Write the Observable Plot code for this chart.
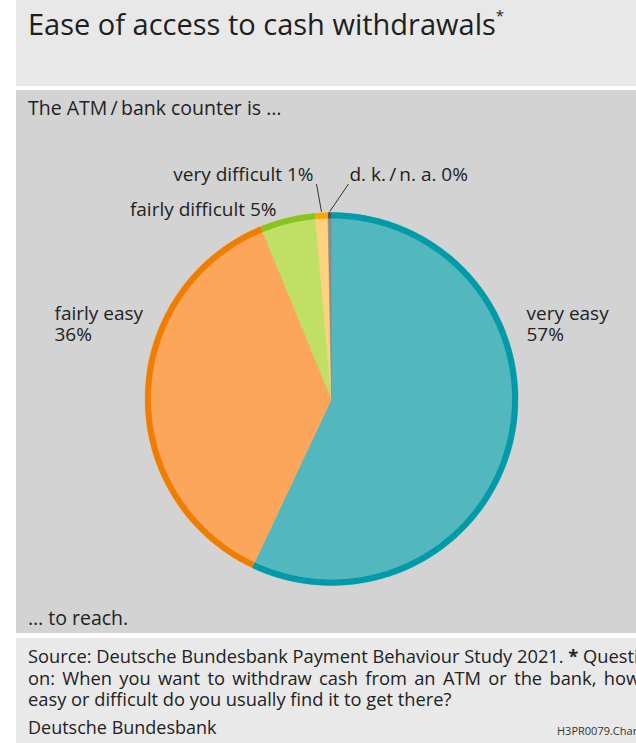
<!DOCTYPE html>
<html>
<head>
<meta charset="utf-8">
<script src="https://cdn.jsdelivr.net/npm/d3@7"></script>
<script src="https://cdn.jsdelivr.net/npm/@observablehq/plot@0.6"></script>
<style>
  html, body { margin: 0; padding: 0; background: #ffffff; }
  body { width: 636px; height: 743px; overflow: hidden; font-family: "Open Sans", "Noto Sans", sans-serif; color: #222; }
  #wrap { position: absolute; left: 16px; top: 0; width: 620px; }
  #title { height: 86px; background: #e8e8e8; position: relative; }
  #title span { position: absolute; left: 12px; top: 4px; font-size: 29px; white-space: nowrap; color: #1e1e1e; }
  #title sup { font-size: 15px; position: relative; top: -3px; }
  #band { margin-top: 4px; height: 543px; background: #d3d3d3; position: relative; overflow: hidden; }
  #band svg { position: absolute; left: 0; top: 0; }
  .note { position: absolute; left: 12px; font-size: 19.5px; white-space: nowrap; }
  #footer { margin-top: 5px; height: 105px; background: #e9e9e9; position: relative; overflow: hidden; }
  #footer .src { position: absolute; left: 12px; top: 7px; font-size: 18.3px; line-height: 21.5px; white-space: nowrap; }
  #footer .j { word-spacing: 2.6px; }
  #footer .org { position: absolute; left: 12px; top: 77px; font-size: 18px; white-space: nowrap; }
  #footer .code { position: absolute; left: 541px; top: 85px; font-size: 11px; white-space: nowrap; color: #333; }
</style>
</head>
<body>
<div id="wrap">
  <div id="title"><span>Ease of access to cash withdrawals<sup>*</sup></span></div>
  <div id="band">
    <div class="note" style="top:4px">The ATM&#8201;/&#8201;bank counter is …</div>
    <div class="note" style="top:514px">… to reach.</div>
  </div>
  <div id="footer">
    <div class="src">Source: Deutsche Bundesbank Payment Behaviour Study 2021. <b>*</b> Questi<br><span class="j">on: When you want to withdraw cash from an ATM or the bank, how</span><br>easy or difficult do you usually find it to get there?</div>
    <div class="org">Deutsche Bundesbank</div>
    <div class="code">H3PR0079.Chart</div>
  </div>
</div>
<script>
// ---- data ----
const categories = ["very easy", "fairly easy", "fairly difficult", "very difficult", "d. k.\u2009/\u2009n. a."];
const shares = [57.0, 36.8, 4.8, 1.1, 0.3];
const shareLabels = ["57%", "36%", "5%", "1%", "0%"];
const fillColors = ["#52b8bd", "#fba65a", "#bfe065", "#ffd27f", "#8c8c8c"];
const rimColors = ["#009aa8", "#ef7d00", "#8cc21e", "#f5a800", "#555555"];

// ---- layout ----
const W = 620, H = 543;
const cx = 315, cy = 308.5, R = 186.5;   // pie centre and radius in px
const rimPx = 6;
const FS = 19;

const slices = d3.pie().sort(null).value(d => d.share)(
  categories.map((c, i) => ({idx: i, cat: c, share: shares[i], fill: fillColors[i], rim: rimColors[i], label: shareLabels[i]}))
);

function arcPts(s, r) {
  const n = Math.max(2, Math.ceil((s.endAngle - s.startAngle) / (Math.PI / 360)));
  const pts = [];
  for (let k = 0; k <= n; k++) {
    const a = s.startAngle + (s.endAngle - s.startAngle) * k / n;
    pts.push({cat: s.data.cat, x: Math.sin(a) * r, y: -Math.cos(a) * r, fill: s.data.fill, rim: s.data.rim});
  }
  return pts;
}
const wedgePts = slices.flatMap(s => {
  const c = {cat: s.data.cat, x: 0, y: 0, fill: s.data.fill, rim: s.data.rim};
  return [c, ...arcPts(s, 1), c];
});
const rimPts = slices.flatMap(s => arcPts(s, 1 - rimPx / 2 / R));

// label placement (px offsets from pie centre), by slice index
const labelPos = [
  {dx: 195,  dy: -75,  anchor: "start", multi: true},
  {dx: -277, dy: -75,  anchor: "start", multi: true},
  {dx: -55,  dy: -190, anchor: "end",   multi: false},
  {dx: -18,  dy: -225, anchor: "end",   multi: false},
  {dx: 18,   dy: -225, anchor: "start", multi: false}
];
const labelData = slices.map(s => {
  const p = labelPos[s.data.idx];
  return {x: p.dx / R, y: p.dy / R, anchor: p.anchor,
          text: s.data.cat + (p.multi ? "\n" : " ") + s.data.label};
});
const leaderStart = {3: [-15, -215], 4: [17, -215]};
const leaders = slices.filter(s => leaderStart[s.data.idx]).map(s => {
  const a = (s.startAngle + s.endAngle) / 2;
  const [sx, sy] = leaderStart[s.data.idx];
  return {x1: sx / R, y1: sy / R, x2: Math.sin(a) * 1.005, y2: -Math.cos(a) * 1.005};
});

const chart = Plot.plot({
  width: W, height: H,
  margin: 0,
  style: {background: "transparent", fontFamily: "'Open Sans', sans-serif"},
  x: {domain: [-cx / R, (W - cx) / R], range: [0, W], axis: null},
  y: {domain: [-cy / R, (H - cy) / R], range: [0, H], axis: null},
  color: {type: "identity"},
  marks: [
    Plot.line(wedgePts, {x: "x", y: "y", z: "cat", fill: "fill", stroke: "fill", strokeWidth: 0.6, curve: "linear"}),
    Plot.line(rimPts, {x: "x", y: "y", z: "cat", stroke: "rim", strokeWidth: rimPx, strokeLinecap: "butt", curve: "linear"}),
    Plot.link(leaders, {x1: "x1", y1: "y1", x2: "x2", y2: "y2", stroke: "#333", strokeWidth: 1}),
    Plot.text(labelData.filter(d => d.anchor === "start"), {x: "x", y: "y", text: "text", textAnchor: "start", fontSize: FS, fill: "#222", lineHeight: 1.1}),
    Plot.text(labelData.filter(d => d.anchor === "end"), {x: "x", y: "y", text: "text", textAnchor: "end", fontSize: FS, fill: "#222", lineHeight: 1.1})
  ]
});
document.getElementById("band").appendChild(chart);
</script>
</body>
</html>
